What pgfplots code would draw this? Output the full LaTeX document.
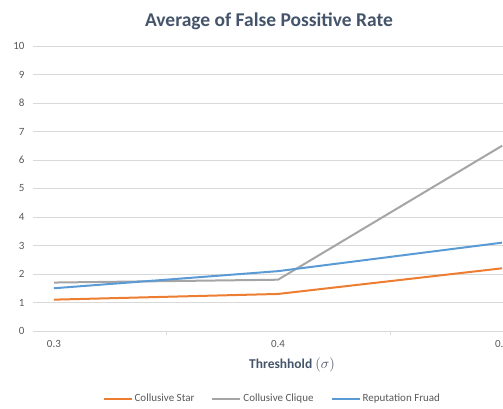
\documentclass[border=0pt]{standalone}
\usepackage{pgfplots}
\pgfplotsset{compat=1.18}
\usepackage{fontspec}
\setmainfont{Carlito}
\definecolor{cstar}{HTML}{ED7D31}
\definecolor{cclique}{HTML}{A5A5A5}
\definecolor{crep}{HTML}{5B9BD5}
\definecolor{gridc}{HTML}{D9D9D9}
\definecolor{txt}{HTML}{595959}
\definecolor{ttl}{HTML}{44546A}
\begin{document}
\begin{tikzpicture}[x=1pt,y=1pt]
\useasboundingbox (0,0) rectangle (503,408);
\begin{axis}[
  scale only axis, width=467pt, height=285pt,
  at={(36pt,77pt)}, anchor=south west,
  xmin=-0.08, xmax=2.004, ymin=0, ymax=10,
  xtick={0,1,2}, xticklabels={0.3,0.4,0.5},
  ytick={0,1,...,10},
  axis x line=bottom, axis y line=left,
  x axis line style={gridc, line width=0.8pt, -},
  y axis line style={draw=none},
  ymajorgrids, grid style={gridc, line width=0.8pt},
  xtick style={draw=none},
  ytick style={gridc, line width=0.6pt},
  tick align=outside, major tick length=3pt,
  extra x ticks={0.5,1.5}, extra x tick labels={},
  extra x tick style={xtick style={draw=gridc, line width=0.8pt}, major tick length=4pt},
  /pgf/number format/assume math mode=true,
  ticklabel style={font=\fontsize{11}{13}\selectfont, text=txt},
  yticklabel style={xshift=-5pt},
  xticklabel style={yshift=-3pt},
  legend columns=3,
  legend style={at={(0.506,-0.237)}, anchor=center, draw=none, fill=none,
    font=\fontsize{11}{13}\selectfont, text=txt, inner xsep=1pt,
    /tikz/every even column/.append style={column sep=15pt}},
  legend image code/.code={\draw[#1, line width=2pt] (0pt,0pt) -- (28pt,0pt);},
  legend cell align=left,
]
\addplot[cstar, line width=2pt] coordinates {(0,1.1) (1,1.3) (2,2.2)};
\addlegendentry{Collusive Star}
\addplot[cclique, line width=2pt] coordinates {(0,1.7) (1,1.8) (2,6.5)};
\addlegendentry{Collusive Clique}
\addplot[crep, line width=2pt] coordinates {(0,1.5) (1,2.1) (2,3.1)};
\addlegendentry{Reputation Fruad}
\end{axis}
\node[font=\bfseries\fontsize{19.5}{22}\selectfont, text=ttl] at (269,387) {Average of False Possitive Rate};
\node[font=\bfseries\fontsize{13.5}{16}\selectfont, text=ttl] at (292,43) {Threshhold {\fontsize{15}{17}\selectfont$(\sigma)$}};
\end{tikzpicture}
\end{document}
